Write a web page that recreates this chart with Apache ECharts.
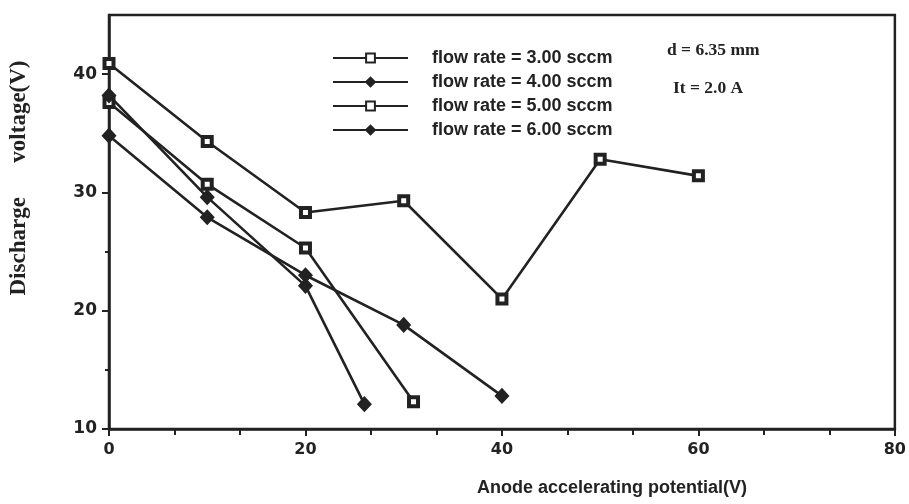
<!DOCTYPE html>
<html>
<head>
<meta charset="utf-8">
<script src="https://cdn.jsdelivr.net/npm/echarts@6/dist/echarts.min.js"></script>
<style>
  html, body { margin: 0; padding: 0; background: #ffffff; }
  #chart { width: 909px; height: 504px; }
</style>
</head>
<body>
<div id="chart"></div>
<script>
// Anode accelerating potential (V) at each measured point, per flow rate
const flow3X = [0, 10, 20, 30, 40, 50, 60];
const flow3Y = [40.9, 34.3, 28.3, 29.3, 21.0, 32.8, 31.4];
const flow4X = [0, 10, 20, 26];
const flow4Y = [38.2, 29.6, 22.1, 12.1];
const flow5X = [0, 10, 20, 31];
const flow5Y = [37.6, 30.7, 25.3, 12.3];
const flow6X = [0, 10, 20, 30, 40];
const flow6Y = [34.8, 27.9, 23.0, 18.8, 12.8];

const seriesNames = [
  'flow rate = 3.00 sccm',
  'flow rate = 4.00 sccm',
  'flow rate = 5.00 sccm',
  'flow rate = 6.00 sccm'
];
const yTickValues = [10, 20, 30, 40];
const noteLines = ['d = 6.35 mm', 'It = 2.0 A'];
const xTitle = 'Anode accelerating potential(V)';
const yTitle = 'Discharge      voltage(V)';

const ink = '#222222';

function pairs(xs, ys) {
  return xs.map((x, i) => [x, ys[i]]);
}

const squareMark = {
  symbol: 'rect',
  symbolSize: 9,
  itemStyle: { color: '#ffffff', borderColor: ink, borderWidth: 4 }
};
const diamondMark = {
  symbol: 'diamond',
  symbolSize: [13, 14],
  itemStyle: { color: ink, borderColor: ink, borderWidth: 1.5 }
};

function lineSeries(name, xs, ys, mark) {
  return Object.assign({
    name: name,
    type: 'line',
    data: pairs(xs, ys),
    showAllSymbol: true,
    lineStyle: { color: ink, width: 2.6 },
    emphasis: { disabled: true },
    animation: false,
    z: mark.symbol === 'rect' ? 3 : 4
  }, mark);
}

const chart = echarts.init(document.getElementById('chart'), null, { renderer: 'canvas' });

chart.setOption({
  backgroundColor: '#ffffff',
  animation: false,
  grid: {
    left: 109, right: 13, top: 15, bottom: 75,
    show: true,
    borderColor: ink,
    borderWidth: 2.5,
    backgroundColor: 'transparent'
  },
  legend: {
    orient: 'vertical',
    left: 327,
    top: 43,
    itemWidth: 75,
    itemHeight: 11,
    itemGap: 4,
    data: seriesNames,
    textStyle: {
      fontFamily: 'Liberation Sans',
      fontWeight: 'bold',
      fontSize: 18,
      color: ink,
      lineHeight: 20,
      padding: [0, 0, 0, 19]
    },
    selectedMode: false
  },
  xAxis: {
    type: 'value',
    min: 0, max: 80, interval: 20,
    axisLine: { lineStyle: { color: ink, width: 2.5 } },
    axisTick: { show: true, length: 7, lineStyle: { color: ink, width: 2 } },
    minorTick: { show: true, splitNumber: 3, length: 6, lineStyle: { color: ink, width: 2 } },
    splitLine: { show: false },
    axisLabel: {
      margin: 13,
      fontFamily: 'DejaVu Sans',
      fontWeight: 'bold',
      fontSize: 16,
      color: ink
    }
  },
  yAxis: {
    type: 'value',
    min: 10, max: 45, interval: 10,
    axisLine: { lineStyle: { color: ink, width: 2.5 } },
    axisTick: { show: true, length: 7, customValues: yTickValues, lineStyle: { color: ink, width: 2 } },
    minorTick: { show: true, splitNumber: 2, length: 4, lineStyle: { color: ink, width: 2 } },
    splitLine: { show: false },
    axisLabel: {
      margin: 12,
      customValues: yTickValues,
      fontFamily: 'DejaVu Sans',
      fontWeight: 'bold',
      fontSize: 17,
      color: ink
    }
  },
  graphic: [
    {
      type: 'text', left: 667, top: 41,
      style: { text: noteLines[0], fontFamily: 'Liberation Serif', fontWeight: 'bold', fontSize: 17.5, fill: ink }
    },
    {
      type: 'text', left: 673, top: 79,
      style: { text: noteLines[1], fontFamily: 'Liberation Serif', fontWeight: 'bold', fontSize: 17.5, fill: ink }
    },
    {
      type: 'text', x: 612, y: 488,
      style: { text: xTitle, fontFamily: 'Liberation Sans', fontWeight: 'bold', fontSize: 18, fill: ink, align: 'center', verticalAlign: 'middle' }
    },
    {
      type: 'text', x: 19, y: 178, rotation: Math.PI / 2,
      style: { text: yTitle, fontFamily: 'Liberation Serif', fontWeight: 'bold', fontSize: 23, fill: ink, align: 'center', verticalAlign: 'middle' }
    }
  ],
  series: [
    lineSeries(seriesNames[0], flow3X, flow3Y, squareMark),
    lineSeries(seriesNames[1], flow4X, flow4Y, diamondMark),
    lineSeries(seriesNames[2], flow5X, flow5Y, squareMark),
    lineSeries(seriesNames[3], flow6X, flow6Y, diamondMark)
  ]
});
</script>
</body>
</html>
